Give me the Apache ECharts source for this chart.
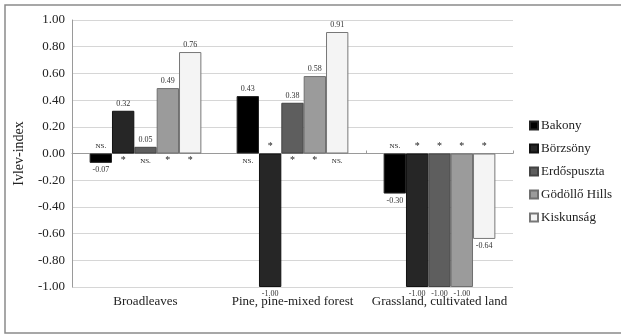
<!DOCTYPE html>
<html>
<head>
<meta charset="utf-8">
<script src="https://cdn.jsdelivr.net/npm/echarts@6/dist/echarts.min.js"></script>
<style>html,body{margin:0;padding:0;background:#fff}#c{width:621px;height:335px}</style>
</head>
<body>
<div id="c"></div>
<script>
var categories = ['Broadleaves', 'Pine, pine-mixed forest', 'Grassland, cultivated land'];
var seriesNames = ['Bakony', 'Börzsöny', 'Erdőspuszta', 'Gödöllő Hills', 'Kiskunság'];
var bakony = [-0.07, 0.43, -0.30];
var borzsony = [0.32, -1.00, -1.00];
var erdospuszta = [0.05, 0.38, -1.00];
var godollo = [0.49, 0.58, -1.00];
var kiskunsag = [0.76, 0.91, -0.64];
var bakonySig = ['NS.', 'NS.', 'NS.'];
var borzsonySig = ['*', '*', '*'];
var erdospusztaSig = ['NS.', '*', '*'];
var godolloSig = ['*', '*', '*'];
var kiskunsagSig = ['*', 'NS.', '*'];
var yTicks = [-1, -0.8, -0.6, -0.4, -0.2, 0, 0.2, 0.4, 0.6, 0.8, 1];

var values = [bakony, borzsony, erdospuszta, godollo, kiskunsag];
var sigs = [bakonySig, borzsonySig, erdospusztaSig, godolloSig, kiskunsagSig];
var colors = ['#000000', '#262626', '#5e5e5e', '#9b9b9b', '#f4f4f4'];
var borders = ['#222', '#111', '#444', '#6f6f6f', '#777'];
var FONT = '"Liberation Serif", "Times New Roman", serif';
var GAP = '24%';

var series = [];
values.forEach(function (arr, i) {
  series.push({
    name: seriesNames[i], type: 'bar', xAxisIndex: 0, barGap: 0, barCategoryGap: GAP,
    itemStyle: { color: colors[i], borderColor: borders[i], borderWidth: 1 },
    data: arr.map(function (v) {
      return { value: v, label: { position: v >= 0 ? 'top' : 'bottom' } };
    }),
    label: {
      show: true, fontFamily: FONT, fontSize: 8, color: '#333', distance: 3,
      formatter: function (p) { return p.value.toFixed(2); }
    }
  });
});
sigs.forEach(function (arr, i) {
  series.push({
    name: 'sig' + i, type: 'bar', xAxisIndex: 1, barGap: 0, barCategoryGap: GAP,
    silent: true, itemStyle: { color: 'rgba(0,0,0,0)' },
    data: arr.map(function (s, j) {
      return {
        value: 0,
        label: {
          position: values[i][j] >= 0 ? 'bottom' : 'top', formatter: s,
          fontSize: s === '*' ? 10 : 7, distance: s === '*' ? 2 : 4
        }
      };
    }),
    label: { show: true, fontFamily: FONT, fontSize: 7, color: '#222', distance: 4 }
  });
});

var chart = echarts.init(document.getElementById('c'));
chart.setOption({
  animation: false,
  backgroundColor: '#fff',
  graphic: [{
    type: 'rect', shape: { x: 5, y: 5, width: 640, height: 328 },
    style: { fill: 'none', stroke: '#8a8a8a', lineWidth: 1.5 }, silent: true
  }],
  grid: { left: 72, right: 108, top: 20, bottom: 48 },
  legend: {
    data: seriesNames, orient: 'vertical', left: 524, top: 114,
    itemWidth: 8, itemHeight: 8, itemGap: 10, icon: 'rect',
    textStyle: { fontFamily: FONT, fontSize: 13, color: '#222', padding: [0, 0, 0, -2] }
  },
  xAxis: [{
    type: 'category', data: categories, position: 'bottom',
    axisLine: { show: false, onZero: false }, axisTick: { show: false },
    axisLabel: { interval: 0, fontFamily: FONT, fontSize: 13, color: '#222', margin: 8 }
  }, {
    type: 'category', data: categories, position: 'bottom',
    axisLine: { show: true, onZero: true, lineStyle: { color: '#9a9a9a', width: 1 } },
    axisTick: { show: true, inside: true, length: 3, lineStyle: { color: '#9a9a9a' } },
    axisLabel: { show: false }
  }],
  yAxis: {
    type: 'value', min: -1, max: 1, interval: 0.2,
    name: 'Ivlev-index', nameLocation: 'middle', nameGap: 46, nameRotate: 90,
    nameTextStyle: { fontFamily: FONT, fontSize: 14, color: '#222' },
    axisLine: { show: true, lineStyle: { color: '#9a9a9a' } },
    axisTick: { show: false },
    splitLine: { lineStyle: { color: '#d6d6d6' } },
    axisLabel: {
      fontFamily: FONT, fontSize: 13, color: '#222', margin: 7,
      formatter: function (v) {
        var t = yTicks.reduce(function (a, b) { return Math.abs(b - v) < Math.abs(a - v) ? b : a; });
        return t.toFixed(2);
      }
    }
  },
  series: series
});
</script>
</body>
</html>
